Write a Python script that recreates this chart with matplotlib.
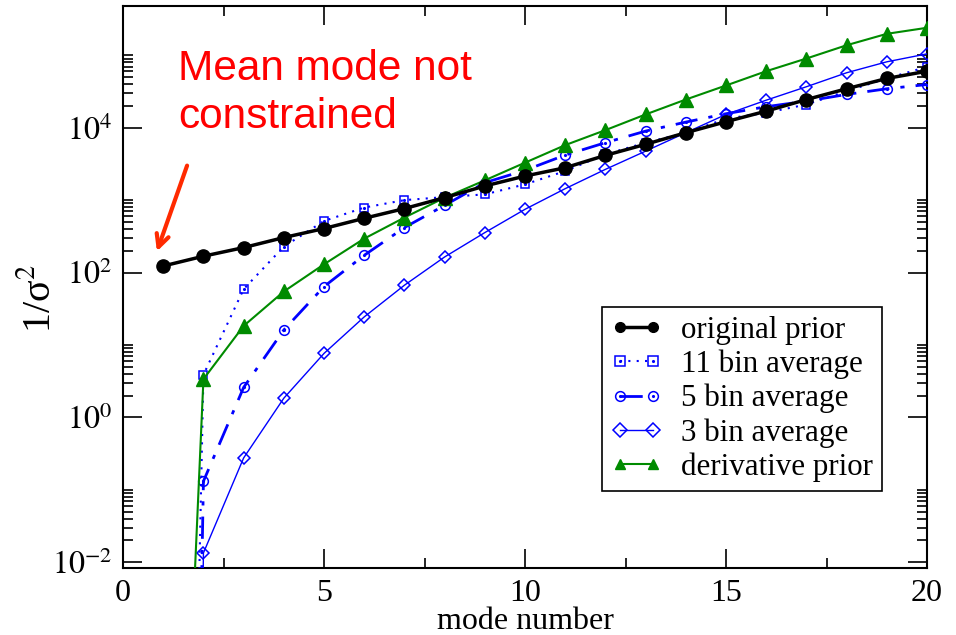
import numpy as np
import matplotlib
matplotlib.use("Agg")
import matplotlib.pyplot as plt
from matplotlib.ticker import FixedLocator, NullFormatter
from matplotlib.legend_handler import HandlerTuple

plt.rcParams['font.family'] = ['Liberation Serif', 'DejaVu Serif']
plt.rcParams['mathtext.fontset'] = 'stix'

mode = np.arange(1, 21)

original_prior = [123, 168, 221, 304, 405, 561, 764, 1081, 1567, 2150,
                  2800, 4150, 5900, 8530, 12100, 16950, 24500, 34500, 47900, 60300]
bin11_avg = [1e-26, 3.87, 58.9, 228, 515, 789, 1000, 1100, 1200, 1650,
             2520, 4290, 6200, 8530, 13300, 16100, 20900, 32000, 47900, 69300]
bin5_avg = [1e-31, 0.131, 2.59, 16.1, 64, 173, 418, 847, 1740, 2580,
            4190, 6210, 8980, 11950, 15600, 19500, 23300, 28800, 34500, 39500]
bin3_avg = [1e-40, 0.0134, 0.275, 1.84, 7.64, 24.4, 66.8, 164, 356, 747,
            1440, 2660, 4750, 8530, 15250, 24000, 36800, 57400, 81300, 104700]
derivative_prior = [1e-12, 3.37, 18.3, 54.7, 130, 294, 574, 1080, 1875, 3290,
                    5750, 9260, 15250, 24500, 38300, 60300, 90300, 137700, 198000, 240000]

fig = plt.figure(figsize=(9.56, 6.35), dpi=100)
ax = fig.add_axes([0.1287, 0.1055, 0.8410, 0.8851])

blue = '#0000ff'
green = '#008b00'

h1, = ax.plot(mode, original_prior, color='black', lw=2.5, marker='o', ms=9.5,
              zorder=6)
h2, = ax.plot(mode, bin11_avg, color=blue, lw=1.5, ls=(0, (1, 3)), marker='s', ms=6,
              mfc='none', mec=blue, mew=1.1, zorder=4)
h2d, = ax.plot(mode, bin11_avg, ls='none', marker='.', ms=2.5, color=blue, zorder=4)
h3, = ax.plot(mode, bin5_avg, color=blue, lw=2, ls=(0, (8, 4, 1.5, 4)), marker='o', ms=7,
              mfc='none', mec=blue, mew=1.1, zorder=4)
h3d, = ax.plot(mode, bin5_avg, ls='none', marker='.', ms=2.5, color=blue, zorder=4)
h4, = ax.plot(mode, bin3_avg, color=blue, lw=1, marker='D', ms=6,
              mfc='none', mec=blue, mew=1.1, zorder=4)
h5, = ax.plot(mode, derivative_prior, color=green, lw=1.5, marker='^', ms=9.5,
              mfc=green, mec=green, zorder=5)

ax.set_yscale('log')
ax.set_xlim(0, 20)
ax.set_ylim(8.3e-3, 4.8e5)

ax.xaxis.set_major_locator(FixedLocator([0, 5, 10, 15, 20]))
ax.xaxis.set_minor_locator(FixedLocator([2.5, 7.5, 12.5, 17.5]))
majors = [1e-2, 1e0, 1e2, 1e4]
ax.yaxis.set_major_locator(FixedLocator(majors))
minors = [j * m for m in majors for j in range(2, 11)]
ax.yaxis.set_minor_locator(FixedLocator(minors))
ax.yaxis.set_minor_formatter(NullFormatter())
ax.set_yticklabels([r'$10^{-2}$', r'$10^{0}$', r'$10^{2}$', r'$10^{4}$'])
ax.set_xticklabels(['0', '5', '10', '15', '20'])

ax.tick_params(which='both', direction='in', top=True, right=True, width=1.2)
ax.tick_params(which='major', length=14, labelsize=23, pad=8)
ax.tick_params(which='minor', length=7)
for s in ax.spines.values():
    s.set_linewidth(1.5)

ax.set_xlabel('mode number', fontsize=23, labelpad=-1)
ax.set_ylabel('1/σ$^{2}$', fontsize=29)
ax.yaxis.set_label_coords(-0.08, 0.48)

leg = ax.legend([h1, (h2, h2d), (h3, h3d), h4, h5],
                ['original prior', '11 bin average', '5 bin average',
                 '3 bin average', 'derivative prior'],
                handler_map={tuple: HandlerTuple(ndivide=1)},
                loc='lower right', bbox_to_anchor=(0.944, 0.137),
                fontsize=22.3, numpoints=2, handlelength=1.65, handletextpad=0.6,
                labelspacing=0.15, borderpad=0.3, borderaxespad=0.0, fancybox=False,
                framealpha=1, edgecolor='black')
leg.get_frame().set_linewidth(1.2)
for lh in leg.legend_handles:
    if hasattr(lh, 'set_markersize') and lh.get_marker() not in ('.', 'None', None):
        lh.set_markersize(7)

fig.text(178 / 956, 1 - 80 / 635, 'Mean mode not', color='#ff0000',
         fontsize=30.5, family='Liberation Sans', ha='left', va='baseline')
fig.text(178 / 956, 1 - 128 / 635, 'constrained', color='#ff0000',
         fontsize=30.5, family='Liberation Sans', ha='left', va='baseline')

ax.annotate('', xy=(156, 635 - 254), xycoords='figure pixels',
            xytext=(188, 635 - 163), textcoords='figure pixels',
            arrowprops=dict(arrowstyle='->,head_length=0.9,head_width=0.45',
                            color='#ff2a00', lw=3))

fig.savefig('out.png', dpi=100)
